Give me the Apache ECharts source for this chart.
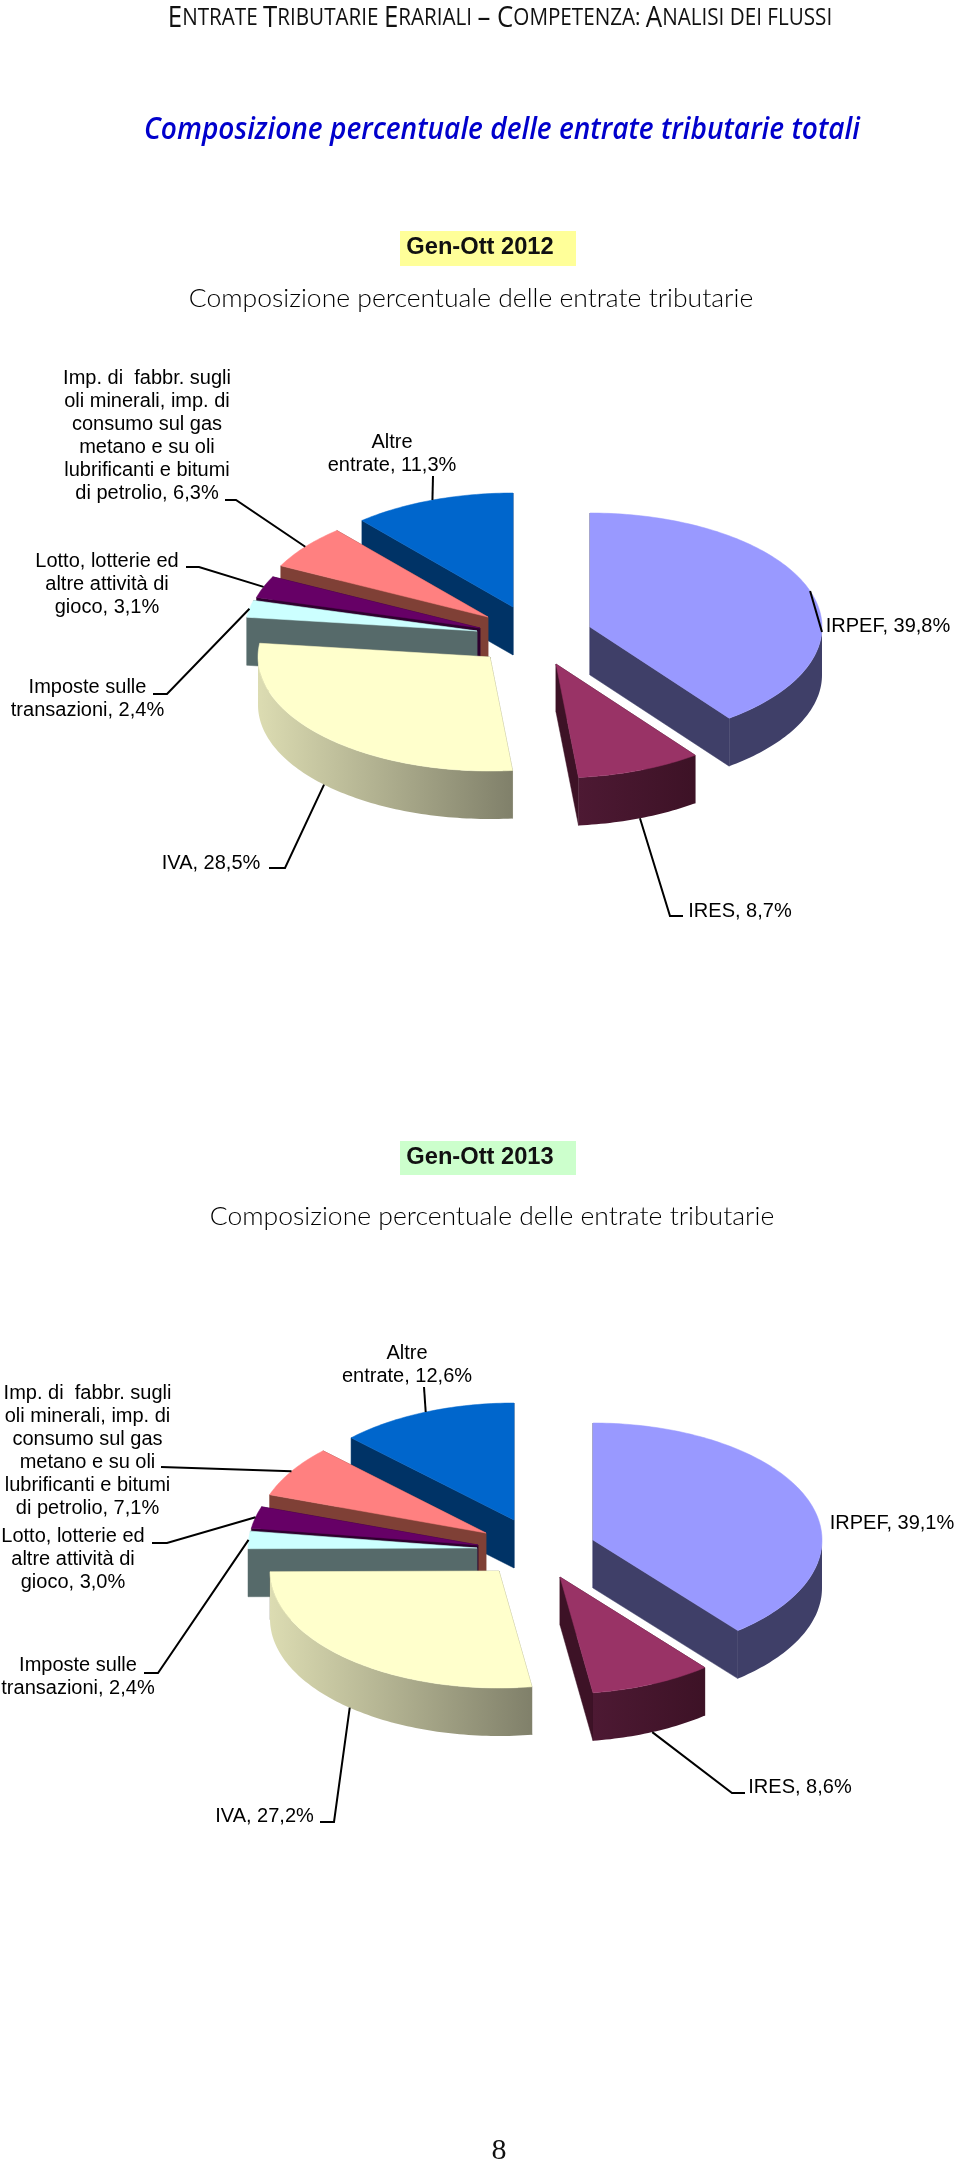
<!DOCTYPE html>
<html><head><meta charset="utf-8">
<style>html,body{margin:0;padding:0;background:#fff}#c{width:960px;height:2161px}</style>
<script src="https://cdn.jsdelivr.net/npm/echarts@6/dist/echarts.min.js"></script>
</head><body><div id="c"></div>
<script>
// ---------- data ----------
const categories = ['IRPEF','IRES','IVA','Imposte sulle\ntransazioni','Lotto, lotterie ed\naltre attività di\ngioco','Imp. di  fabbr. sugli\noli minerali, imp. di\nconsumo sul gas\nmetano e su oli\nlubrificanti e bitumi\ndi petrolio','Altre\nentrate'];
const values2012 = [39.8, 8.7, 28.5, 2.4, 3.1, 6.3, 11.3];
const values2013 = [39.1, 8.6, 27.2, 2.4, 3.0, 7.1, 12.6];
const periods = ['Gen-Ott 2012','Gen-Ott 2013'];
const subtitle = 'Composizione percentuale delle entrate tributarie';

// ---------- styles ----------
const topColors = ['#9999ff','#993366','#ffffcc','#ccffff','#660066','#ff8080','#0066cc'];
const wallColors = [['#3f3f68','#3f3f68'],['#4d1933','#3d1226'],['#dcdcb2','#80806a'],['#566a6a','#566a6a'],['#2e002e','#2e002e'],['#7f4036','#7f4036'],['#003366','#003366']];

// ---------- layout of each pie: centre, radii, depth, explosion of each slice, label placing ----------
const layout2012 = {
  cx:530, cy:635, rx:232, ry:114, depth:48,
  explode:[[60,-8],[26,29],[-40,22],[-53,-4],[-50,-7],[-42,-18],[-17,-28]],
  labels:[[888,626],[740,911],[211,863],[87.5,699],[107,584.5],[147,435.5],[392,453.5]],
  leaders:[[[822,632]],[[683,916],[670,916]],[[269,868],[285,868]],[[153,694],[167,694]],[[186,567],[199,567]],[[225,500],[236,500]],[[433,476]]]
};
const layout2013 = {
  cx:530, cy:1545, rx:229, ry:117, depth:48,
  explode:[[63,-5],[30,32],[-31,26],[-53,3],[-52,0],[-44,-12],[-16,-25]],
  labels:[[892,1523],[800,1787],[264.5,1816],[78,1677],[73,1559.5],[87.5,1450.5],[407,1364.5]],
  leaders:[null,[[745,1793],[732,1793]],[[320,1822],[334,1822]],[[144,1673],[158,1673]],[[152,1543],[167,1543]],[[161,1467]],[[424,1387]]]
};

const labelFont = '20px "Liberation Sans", Arial, sans-serif';
const fmt = v => v.toFixed(1).replace('.', ',') + '%';

function pieRenderer(values, L) {
  const total = values.reduce((a,b)=>a+b,0);
  const starts = []; let run = 0;
  values.forEach(v => { starts.push(run/total*Math.PI*2); run += v; });
  return function (params, api) {
    const i = api.value(1), frac = api.value(0)/total;
    const a0 = starts[i], a1 = a0 + frac*Math.PI*2, mid = (a0+a1)/2;
    const ax = L.cx + L.explode[i][0], ay = L.cy + L.explode[i][1];
    const pt = (a,d=0) => [ax + L.rx*Math.sin(a), ay - L.ry*Math.cos(a) + d];
    const arc = (s,e,d=0) => { const n = Math.max(2,Math.ceil((e-s)/0.02)), o=[]; for(let k=0;k<=n;k++) o.push(pt(s+(e-s)*k/n,d)); return o; };
    const wall = wallColors[i];
    const flat = wall[1];
    const D = L.depth, kids = [];
    const radial = a => ({type:'polygon',shape:{points:[[ax,ay],pt(a),pt(a,D),[ax,ay+D]]},style:{fill:flat,stroke:flat,lineWidth:0.5}});
    kids.push(radial(a1)); kids.push(radial(a0));
    const s = Math.max(a0,Math.PI/2), e = Math.min(a1,Math.PI*1.5);
    if (e > s) {
      const pts = arc(s,e).concat(arc(s,e,D).reverse());
      kids.push({type:'polygon',shape:{points:pts},style:{
        fill:new echarts.graphic.LinearGradient(1,0,0,0,[{offset:0,color:wall[1]},{offset:1,color:wall[0]}]),stroke:null}});
    }
    kids.push({type:'polygon',shape:{points:[[ax,ay]].concat(arc(a0,a1))},style:{fill:topColors[i],stroke:topColors[i],lineWidth:0.5}});
    const onWall = mid > Math.PI/2 && mid < Math.PI*1.5;
    if (L.leaders[i]) kids.push({type:'polyline',z2:50,shape:{points:L.leaders[i].concat([pt(mid,onWall?D:0)])},style:{stroke:'#000',lineWidth:2,fill:null}});
    kids.push({type:'text',z2:60,style:{text:categories[i]+', '+fmt(values[i]),x:L.labels[i][0],y:L.labels[i][1],
      textAlign:'center',textVerticalAlign:'middle',font:labelFont,lineHeight:23,fill:'#000'}});
    return {type:'group',children:kids};
  };
}
// slices are painted from the back of the pie to its front
const paintOrder = vals => vals.map((v,i)=>[v,i]).reverse();

const smallCaps = [['E','NTRATE '],['T','RIBUTARIE '],['E','RARIALI '],['– ',''],['C','OMPETENZA: '],['A','NALISI DEI FLUSSI']];
const head = smallCaps.map(p => (p[0]?'{b|'+p[0]+'}':'') + (p[1]?'{s|'+p[1]+'}':'')).join('');
const txt = (text,x,y,sx,style) => ({type:'text',x,y,scaleX:sx,style:Object.assign({text,textAlign:'center',textVerticalAlign:'middle',fill:'#000'},style)});

const chart = echarts.init(document.getElementById('c'),null,{renderer:'canvas',width:960,height:2161});
chart.setOption({
  animation:false,
  backgroundColor:'#fff',
  graphic:{elements:[
    txt(head,500,18,0.86,{rich:{
      b:{font:'30px "Open Sans", sans-serif',fill:'#111'},
      s:{font:'24px "Open Sans", sans-serif',fill:'#111'}}}),
    txt('Composizione percentuale delle entrate tributarie totali',502,130,0.905,{font:'italic 600 31px "Open Sans", sans-serif',fill:'#0000cc'}),
    {type:'rect',shape:{x:400,y:231,width:176,height:35},style:{fill:'#ffff99'}},
    txt(periods[0],480,248,1.03,{font:'bold 23px "Liberation Sans", Arial, sans-serif',fill:'#111'}),
    txt(subtitle,471,299,1.02,{font:'300 26px Lato, sans-serif',fill:'#000'}),
    {type:'rect',shape:{x:400,y:1141,width:176,height:34},style:{fill:'#ccffcc'}},
    txt(periods[1],480,1158,1.03,{font:'bold 23px "Liberation Sans", Arial, sans-serif',fill:'#111'}),
    txt(subtitle,492,1217,1.02,{font:'300 26px Lato, sans-serif',fill:'#000'}),
    txt('8',499,2151,1,{font:'30px "Liberation Serif", serif',fill:'#111'})
  ]},
  series:[
    {type:'custom',name:periods[0],coordinateSystem:'none',silent:true,data:paintOrder(values2012),renderItem:pieRenderer(values2012,layout2012)},
    {type:'custom',name:periods[1],coordinateSystem:'none',silent:true,data:paintOrder(values2013),renderItem:pieRenderer(values2013,layout2013)}
  ]
});
</script></body></html>
